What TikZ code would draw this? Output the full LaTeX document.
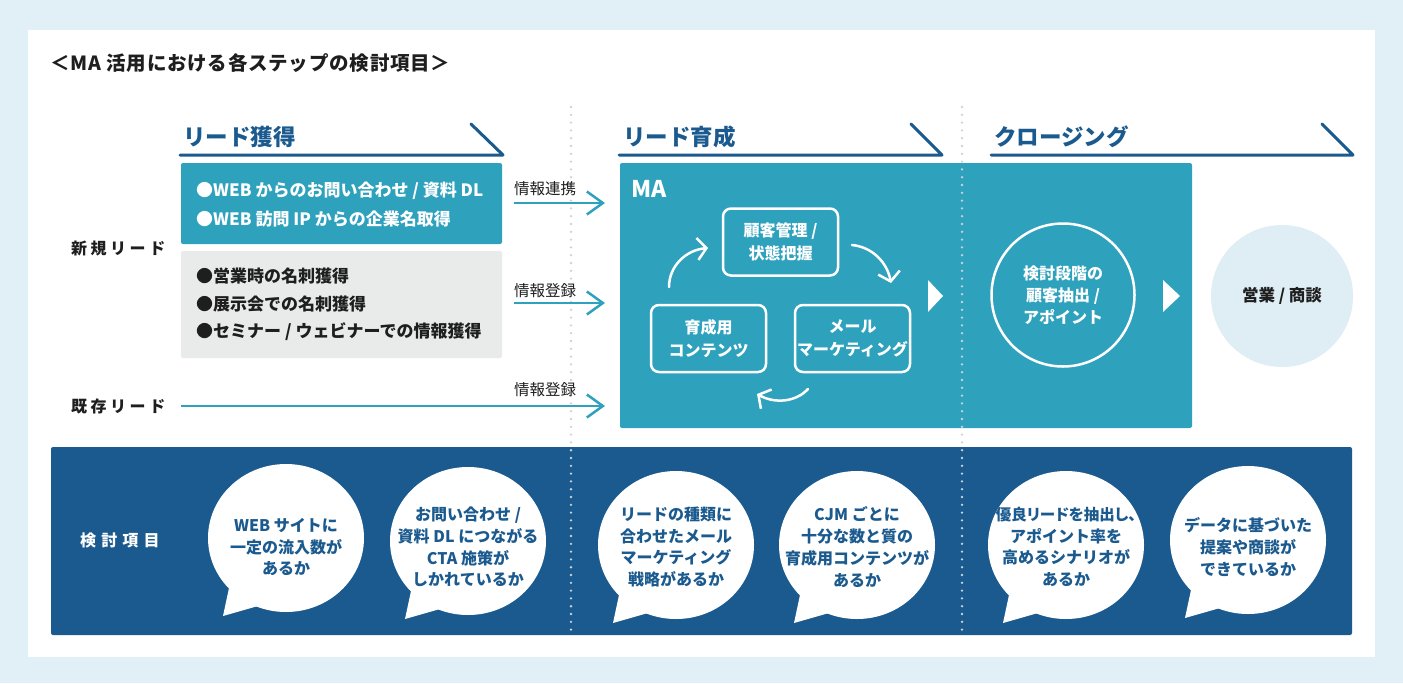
\documentclass[tikz,border=0pt]{standalone}
\usepackage{fontspec}
\setmainfont{Noto Sans CJK JP}
\newfontfamily\jpls{Noto Sans CJK JP}[LetterSpace=22]
\newfontfamily\jplsw{Noto Sans CJK JP}[LetterSpace=32]
\newfontfamily\jptitle{Noto Sans CJK JP}[LetterSpace=4]
\newfontfamily\jppalt{Noto Sans CJK JP}[RawFeature=+palt]
\usetikzlibrary{arrows.meta}
\definecolor{bgblue}{HTML}{E1EFF7}
\definecolor{mateal}{HTML}{2EA1BD}
\definecolor{madark}{HTML}{1B5A8E}
\definecolor{magray}{HTML}{E9EBEB}
\definecolor{malight}{HTML}{DFEDF5}
\definecolor{madot}{HTML}{CDD3D8}
\definecolor{matext}{HTML}{1E1E1E}
\tikzset{
  hdr/.style={font=\bfseries\fontsize{22.5}{26}\selectfont, text=madark, anchor=west, inner sep=0pt},
  hdrline/.style={draw=madark, line width=3pt, line join=round, line cap=round},
  itemtxt/.style={font=\bfseries\fontsize{17}{20}\selectfont, anchor=west, inner sep=0pt},
  lbl/.style={font=\fontsize{15.5}{18}\selectfont, text=matext, anchor=west, inner sep=0pt},
  sidelbl/.style={font=\jpls\bfseries\fontsize{16}{20}\selectfont, text=matext, anchor=west, inner sep=0pt},
  tealarrow/.style={draw=mateal, line width=2.5pt, -{Straight Barb[length=16pt,width=23pt]}},
  whitearrow/.style={draw=white, line width=2.5pt, line cap=round, -{Straight Barb[length=9pt,width=22pt]}},
  mabox/.style={draw=white, line width=2.5pt, rounded corners=8pt, minimum width=115pt, minimum height=67pt, align=center, text=white, font=\bfseries\fontsize{16}{22.5}\selectfont, inner sep=0pt},
  dotline/.style={draw=madot, line width=2.6pt, line cap=round, dash pattern=on 0pt off 7.8pt},
  bubtext/.style={font=\bfseries\fontsize{16}{21.7}\selectfont, text=madark, align=center, inner sep=0pt},
  playtri/.style={fill=white},
}
\newcommand\mabubble[4]{%
  \fill[white] (#2,#3) ellipse [x radius=78, y radius=74];
  \fill[white] (#2,#3) ++(-57,50) -- ++(-6,28) -- ++(35,-10) -- cycle;
  \node[bubtext] (#1) at (#2,547) {#4};
}
\begin{document}
\begin{tikzpicture}[x=1pt,y=-1pt]
\useasboundingbox (0,0) rectangle (1403,683);
% backgrounds
\fill[bgblue] (0,0) rectangle (1403,683);
\fill[white] (28,30) rectangle (1375,657);

% title
\node[font=\jptitle\bfseries\fontsize{19.5}{22}\selectfont, text=matext, anchor=west, inner sep=0pt] (title) at (50,63) {＜MA 活用における各ステップの検討項目＞};

% section headers
\node[hdr] (h1) at (183,137) {リード獲得};
\node[hdr] (h2) at (623,137) {リード育成};
\node[hdr] (h3) at (994,137) {クロージング};
\draw[hdrline] (180,155) -- (503,155) -- (471,124);
\draw[hdrline] (619,155) -- (942,155) -- (911,124);
\draw[hdrline] (991,155) -- (1353,155) -- (1322,124);

% lead acquisition boxes
\fill[mateal, rounded corners=2pt] (181,163) rectangle (502,244);
\fill[magray, rounded corners=2pt] (181,251) rectangle (502,358);
\node[itemtxt, text=white] (w1) at (196,191) {●WEB からのお問い合わせ / 資料 DL};
\node[itemtxt, text=white] (w2) at (196,219) {●WEB 訪問 IP からの企業名取得};
\node[itemtxt, text=matext] (g1) at (196,276) {●営業時の名刺獲得};
\node[itemtxt, text=matext] (g2) at (196,304) {●展示会での名刺獲得};
\node[itemtxt, text=matext] (g3) at (196,332) {●セミナー / ウェビナーでの情報獲得};

\node[sidelbl] (newlead) at (71,249) {新規リード};
\node[sidelbl] (oldlead) at (71,406) {既存リード};

% MA box
\fill[mateal, rounded corners=2pt] (620,163) rectangle (1192,428);
\node[font=\bfseries\fontsize{23}{26}\selectfont, text=white, anchor=west, inner sep=0pt] (ma) at (631,189) {MA};
\node[mabox] (crm) at (780.5,242) {顧客管理 /\\状態把握};
\node[mabox] (cont) at (708.5,338.5) {育成用\\コンテンツ};
\node[mabox] (mail) at (852.5,338.5) {メール\\マーケティング};

% closing
\node[circle, draw=white, line width=2.5pt, minimum size=143pt, align=center, text=white, font=\bfseries\fontsize{16}{22}\selectfont, inner sep=0pt] (close) at (1063,295) {検討段階の\\顧客抽出 /\\アポイント};
\node[circle, fill=malight, minimum size=142pt, text=matext, font=\bfseries\fontsize{16.5}{20}\selectfont, inner sep=0pt] (deal) at (1282,296) {営業 / 商談};

% play triangles
\fill[playtri] (928,280) -- (943,296) -- (928,312) -- cycle;
\fill[playtri] (1163,280) -- (1180,296) -- (1163,312) -- cycle;

% bottom band
\fill[madark, rounded corners=2pt] (51,447) rectangle (1352,635);
\node[font=\jplsw\bfseries\fontsize{16}{20}\selectfont, text=white, anchor=west, inner sep=0pt] (kento) at (80,540) {検討項目};

% dotted dividers
\coordinate (d1t) at (571,107); \coordinate (d1b) at (571,630);
\coordinate (d2t) at (962,107); \coordinate (d2b) at (962,630);
\draw[dotline] (d1t) -- (d1b);
\draw[dotline] (d2t) -- (d2b);

% bubbles
\mabubble{b1}{286}{538}{WEB サイトに\\一定の流入数が\\あるか}
\mabubble{b2}{468}{541}{お問い合わせ /\\資料 DL につながる\\CTA 施策が\\しかれているか}
\mabubble{b3}{676}{545}{リードの種類に\\合わせたメール\\マーケティング\\戦略があるか}
\mabubble{b4}{857}{545}{CJM ごとに\\十分な数と質の\\育成用コンテンツが\\あるか}
\mabubble{b5}{1066}{545}{{\jppalt\bfseries\fontsize{15.5}{21.7}\selectfont 優良リードを抽出し、}\\アポイント率を\\高めるシナリオが\\あるか}
\mabubble{b6}{1248}{540}{データに基づいた\\提案や商談が\\できているか}

% teal arrows
\coordinate (a1s) at (514,203); \coordinate (a1e) at (605,203);
\coordinate (a2s) at (514,303); \coordinate (a2e) at (605,303);
\coordinate (a3s) at (181,406); \coordinate (a3e) at (605,406);
\draw[tealarrow] (a1s) -- (a1e);
\draw[tealarrow] (a2s) -- (a2e);
\draw[tealarrow] (a3s) -- (a3e);
\node[lbl] (l1) at (514,189) {情報連携};
\node[lbl] (l2) at (514,291) {情報登録};
\node[lbl] (l3) at (514,390) {情報登録};

% cycle arrows
\coordinate (c1s) at (669,287); \coordinate (c1e) at (708,248);
\coordinate (c2s) at (852,245); \coordinate (c2e) at (891,283);
\coordinate (c3s) at (808,389); \coordinate (c3e) at (757,394);
\draw[whitearrow] (c1s) .. controls (669,266) and (686,250) .. (c1e);
\draw[whitearrow] (c2s) .. controls (872,247) and (887,262) .. (c2e);
\draw[whitearrow] (c3s) .. controls (796,402) and (775,404) .. (c3e);
\end{tikzpicture}
\end{document}
